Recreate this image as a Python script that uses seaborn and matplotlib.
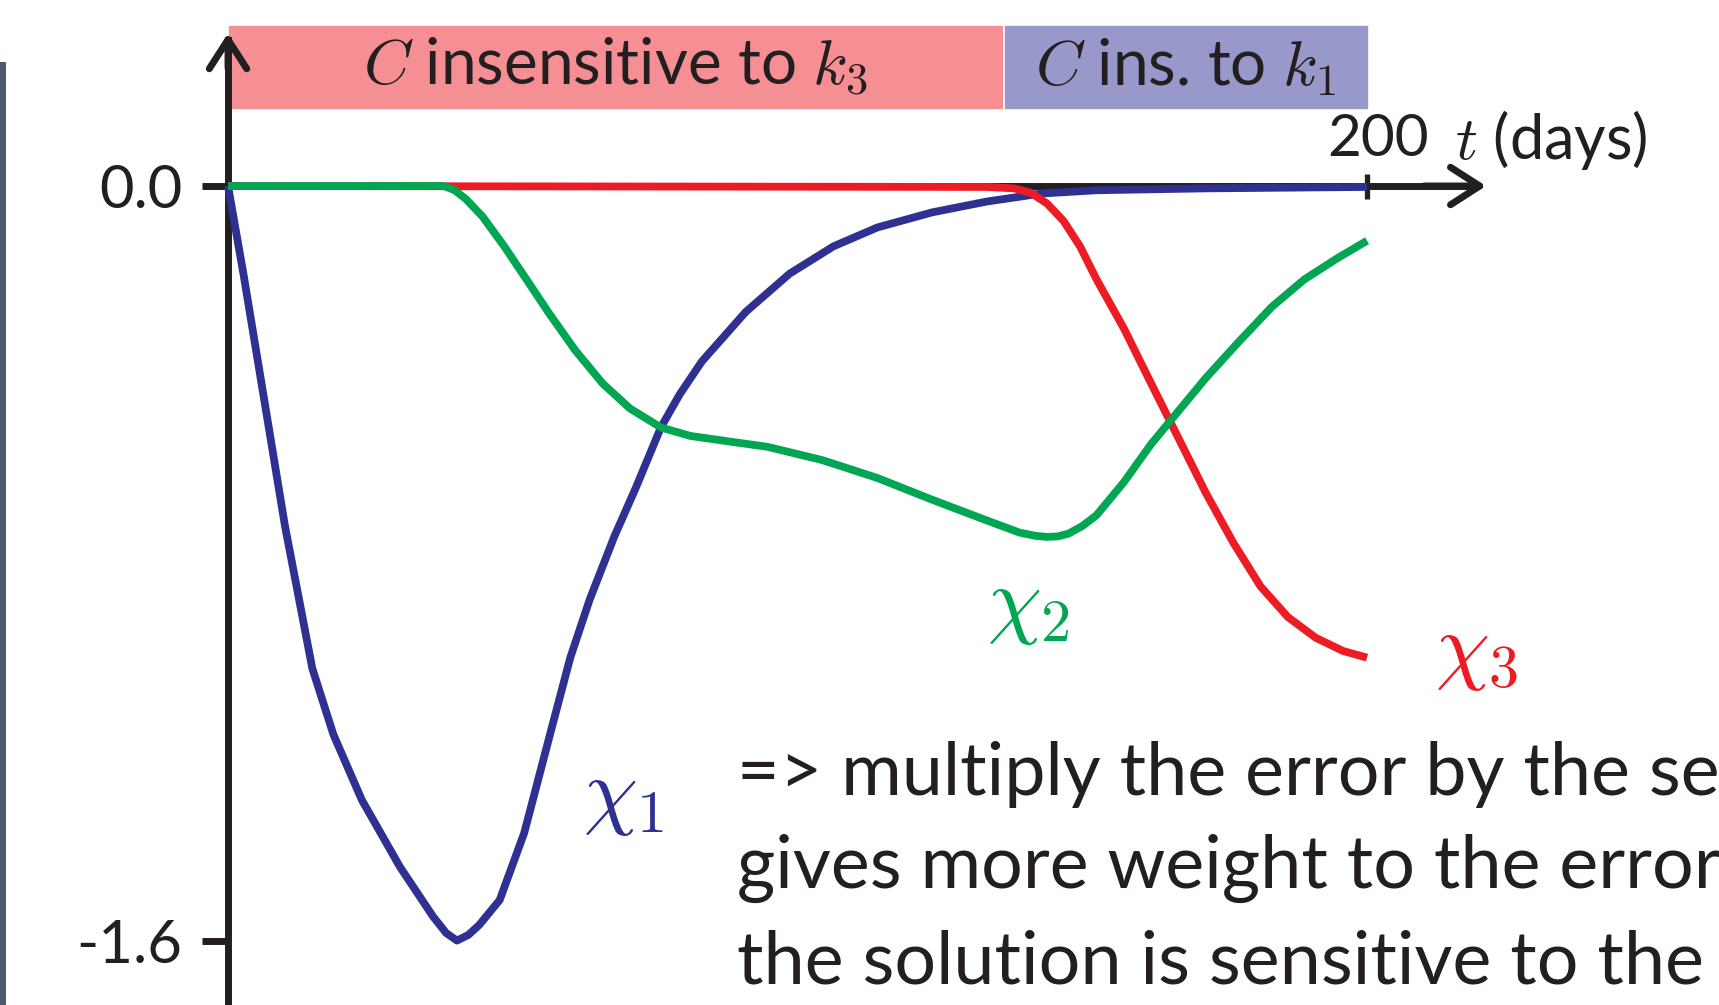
import numpy as np
import pandas as pd
import matplotlib
matplotlib.use("Agg")
import matplotlib.pyplot as plt
import seaborn as sns
from matplotlib.patches import Rectangle

sns.set_theme(style="white")
plt.rcParams['font.family'] = ['Lato', 'DejaVu Sans']
plt.rcParams['mathtext.fontset'] = 'cm'

INK = "#231f20"
BLUE = "#2e3192"
GREEN = "#00a651"
RED = "#ed1c24"

# sensitivities chi_1..chi_3 over time t (days)
t_chi1 = [0, 2.7, 6.2, 10.0, 14.8, 18.5, 23.5, 30.2, 36.0, 38.3, 40.2, 42.2, 44.1,
          47.7, 52.0, 56.6, 60.1, 63.5, 67.8, 71.6, 76.0, 79.3, 83.2, 90.9, 98.6,
          106.3, 114.0, 123.6, 133.2, 142.8, 152.5, 171.7, 200]
chi1 = [0, -0.186, -0.442, -0.721, -1.023, -1.163, -1.302, -1.444, -1.549, -1.584,
        -1.6, -1.588, -1.567, -1.514, -1.372, -1.160, -1.000, -0.877, -0.744,
        -0.640, -0.512, -0.442, -0.372, -0.267, -0.186, -0.128, -0.088, -0.056,
        -0.033, -0.016, -0.009, -0.005, -0.002]

t_chi2 = [0, 37.9, 39.8, 41.8, 44.7, 48.5, 52.4, 56.2, 61.0, 65.8, 70.6, 76.0, 81.2,
          87.0, 94.7, 104.3, 114.0, 123.6, 133.2, 139.0, 141.9, 143.8, 145.7, 147.6,
          150.0, 152.5, 157.3, 162.1, 166.9, 171.7, 177.5, 183.3, 189.0, 194.8, 200]
chi2 = [0, 0, -0.009, -0.028, -0.065, -0.128, -0.198, -0.267, -0.349, -0.419, -0.472,
        -0.512, -0.530, -0.540, -0.553, -0.581, -0.619, -0.665, -0.709, -0.735,
        -0.742, -0.744, -0.743, -0.737, -0.721, -0.698, -0.628, -0.547, -0.477,
        -0.407, -0.330, -0.256, -0.198, -0.153, -0.116]

t_chi3 = [0, 133.2, 138.0, 140.9, 143.8, 146.7, 149.6, 152.5, 157.3, 162.1, 166.9,
          171.7, 176.5, 181.3, 186.1, 191.0, 195.8, 200]
chi3 = [0, -0.002, -0.005, -0.014, -0.037, -0.074, -0.128, -0.198, -0.302, -0.419,
        -0.535, -0.651, -0.756, -0.849, -0.914, -0.958, -0.986, -1.0]

# insensitivity regions shown as bands above the plot
band_start = [0, 136.2]
band_end = [136.2, 200.3]
band_labels = [r"$C$ insensitive to $k_3$", r"$C$ ins. to $k_1$"]
band_colors = ["#f68f93", "#9898ca"]

ytick_vals = [0, -1.6]
ytick_labels = ["0.0", "-1.6"]
xtick_vals = [200]

body_lines = [
    "=> multiply the error by the se",
    "gives more weight to the error",
    "the solution is sensitive to the",
]

fig = plt.figure(figsize=(17.19, 10.05), dpi=100)
ax = fig.add_axes([0, 0, 1, 1])
ax.set_xlim(-40.04, 261.8)
ax.set_ylim(-1.7366, 0.3944)

# dark slide edge on the left
ax.add_patch(Rectangle((0, 0), 6 / 1719, 943 / 1005, transform=ax.transAxes,
                       color="#4b5a6e", lw=0))

# bands
for s, e, lab, c in zip(band_start, band_end, band_labels, band_colors):
    ax.bar(s, 0.18, width=e - s, bottom=0.161, align="edge", color=c,
           edgecolor="white", linewidth=1.2, zorder=1)
    ax.text((s + e) / 2, 0.252, lab, ha="center", va="center", fontsize=46,
            color=INK, zorder=2)

# axes drawn as arrows through the origin
for name in ["top", "right"]:
    ax.spines[name].set_visible(False)
ax.spines["left"].set_position(("data", 0))
ax.spines["bottom"].set_position(("data", 0))
ax.spines["left"].set_bounds(-1.7366, 0.31)
ax.spines["bottom"].set_bounds(0, 219)
for name in ["left", "bottom"]:
    ax.spines[name].set_color(INK)
    ax.spines[name].set_linewidth(5)
arrow = dict(arrowstyle="->,head_length=0.7,head_width=0.45", color=INK, lw=5,
             mutation_scale=30, shrinkA=0, shrinkB=0)
ax.annotate("", xy=(220.9, 0), xytext=(210, 0), arrowprops=arrow)
ax.annotate("", xy=(0, 0.324), xytext=(0, 0.25), arrowprops=arrow)

ax.set_yticks(ytick_vals, ytick_labels)
ax.tick_params(axis="y", direction="out", length=19, width=5, color=INK,
               pad=14, labelsize=43, labelcolor=INK, left=True)
ax.set_xticks(xtick_vals, [""])
ax.tick_params(axis="x", direction="inout", length=18, width=3.8, color=INK,
               bottom=True, labelbottom=False)
ax.text(202, 0.098, "200", ha="center", va="center", fontsize=42, color=INK)
ax.text(215.4, 0.098, r"$t$ (days)", ha="left", va="center", fontsize=44, color=INK)

# curves
line_kw = dict(linewidth=5.6, solid_capstyle="butt", solid_joinstyle="round")
sns.lineplot(x=t_chi1, y=chi1, ax=ax, color=BLUE, zorder=4, **line_kw)
sns.lineplot(x=t_chi3, y=chi3, ax=ax, color=RED, zorder=5, **line_kw)
sns.lineplot(x=t_chi2, y=chi2, ax=ax, color=GREEN, zorder=6, **line_kw)

ax.text(69.5, -1.30, r"$\chi_1$", color=BLUE, fontsize=62, ha="center", va="center")
ax.text(140.5, -0.894, r"$\chi_2$", color=GREEN, fontsize=62, ha="center", va="center")
ax.text(219.3, -0.992, r"$\chi_3$", color=RED, fontsize=62, ha="center", va="center")

for i, line in enumerate(body_lines):
    ax.text(89.4, -1.247 - i * 0.2, line, fontsize=53, color=INK, ha="left",
            va="center")

ax.set_xlabel("")
ax.set_ylabel("")
fig.savefig("out.png", dpi=100, facecolor="white")
